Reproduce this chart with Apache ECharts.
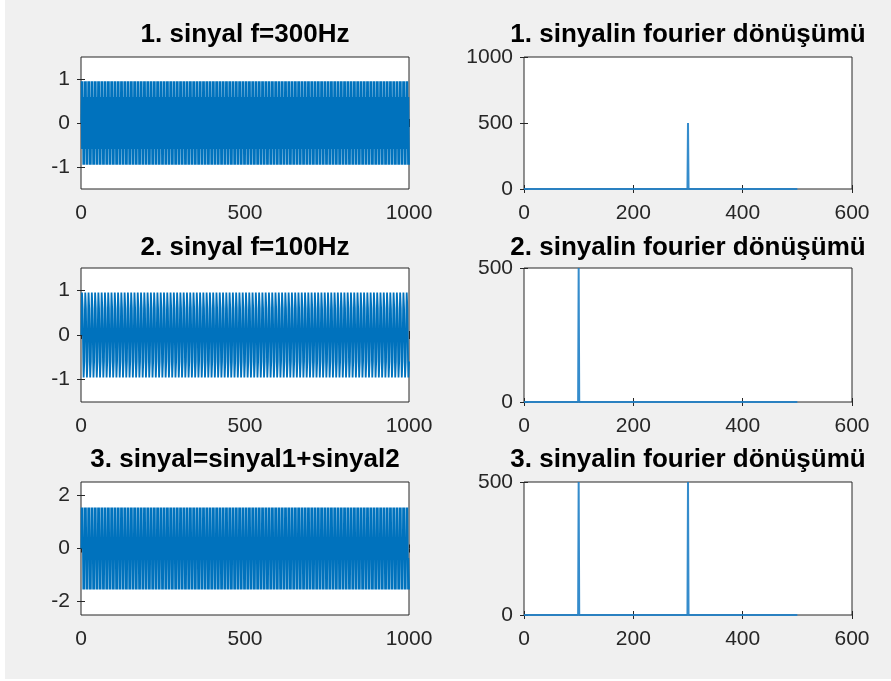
<!DOCTYPE html>
<html>
<head>
<meta charset="utf-8">
<script src="https://cdn.jsdelivr.net/npm/echarts@6/dist/echarts.min.js"></script>
<style>
html,body{margin:0;padding:0;background:#ffffff;}
#chart{position:absolute;left:5px;top:0;width:886px;height:679px;background:#f0f0f0;}
</style>
</head>
<body>
<div id="chart"></div>
<script>
// ---- data ----
const titles = [
  "1. sinyal f=300Hz", "1. sinyalin fourier dönüşümü",
  "2. sinyal f=100Hz", "2. sinyalin fourier dönüşümü",
  "3. sinyal=sinyal1+sinyal2", "3. sinyalin fourier dönüşümü"
];
const sampleCount = 1000;
const sig1Cycle = [0, 0.95, -0.59, -0.59, 0.95, 0, -0.95, 0.59, 0.59, -0.95];
const sig2Cycle = [0, 0.59, 0.95, 0.95, 0.59, 0, -0.59, -0.95, -0.95, -0.59];
const sig3Cycle = [0, 1.54, 0.36, 0.36, 1.54, 0, -1.54, -0.36, -0.36, -1.54];
// spectra (magnitude), zero except at the peaks
const fft1Freq = [0, 299, 300, 301, 500];
const fft1Mag  = [0, 0, 500, 0, 0];
const fft2Freq = [0, 99, 100, 101, 500];
const fft2Mag  = [0, 0, 500, 0, 0];
const fft3Freq = [0, 99, 100, 101, 299, 300, 301, 500];
const fft3Mag  = [0, 0, 500, 0, 0, 500, 0, 0];
// tick labels
const timeXTicks = [0, 500, 1000];
const freqXTicks = [0, 200, 400, 600];
const sigYTicks12 = [-1, 0, 1];
const sigYTicks3 = [-2, 0, 2];
const fftYTicks1 = [0, 500, 1000];
const fftYTicks23 = [0, 500];

function tile(cycle){
  const out = [];
  for (let i = 0; i < sampleCount; i++) out.push([i + 1, cycle[i % cycle.length]]);
  return out;
}
function pairs(xs, ys){ return xs.map((x, i) => [x, ys[i]]); }

const panels = [
  {data: tile(sig1Cycle), xr:[0,1000], xt: timeXTicks, yr:[-1.5,1.5], yt: sigYTicks12, kind:'t'},
  {data: pairs(fft1Freq, fft1Mag), xr:[0,600], xt: freqXTicks, yr:[0,1000], yt: fftYTicks1, kind:'f'},
  {data: tile(sig2Cycle), xr:[0,1000], xt: timeXTicks, yr:[-1.5,1.5], yt: sigYTicks12, kind:'t'},
  {data: pairs(fft2Freq, fft2Mag), xr:[0,600], xt: freqXTicks, yr:[0,500], yt: fftYTicks23, kind:'f'},
  {data: tile(sig3Cycle), xr:[0,1000], xt: timeXTicks, yr:[-2.5,2.5], yt: sigYTicks3, kind:'t'},
  {data: pairs(fft3Freq, fft3Mag), xr:[0,600], xt: freqXTicks, yr:[0,500], yt: fftYTicks23, kind:'f'}
];

// ---- layout ----
const colLeft = [76, 519];
const colW = 328;
const rowTop = [57, 268, 482];
const rowH = [132, 134, 133];
const titleY = [35, 248, 460];
const axisColor = '#262626';
const font = 'Arial, "Liberation Sans", Helvetica, sans-serif';
const plain = v => String(v);

const grid = [], xAxis = [], yAxis = [], series = [], graphic = [];
panels.forEach((p, i) => {
  const r = Math.floor(i / 2), c = i % 2;
  grid.push({left: colLeft[c], top: rowTop[r], width: colW, height: rowH[r],
    show: true, backgroundColor: '#ffffff', borderColor: axisColor, borderWidth: 1, containLabel: false});
  const tick = {show: true, inside: true, length: 4, lineStyle: {color: axisColor, width: 1}};
  const lbl = {color: axisColor, fontSize: 21, fontFamily: font, formatter: plain};
  xAxis.push({type:'value', gridIndex:i, min:p.xr[0], max:p.xr[1], position:'bottom',
    axisLine:{show:false}, splitLine:{show:false},
    axisTick:Object.assign({customValues:p.xt}, tick),
    axisLabel:Object.assign({customValues:p.xt, margin:14}, lbl)});
  xAxis.push({type:'value', gridIndex:i, min:p.xr[0], max:p.xr[1], position:'top',
    axisLine:{show:false}, splitLine:{show:false},
    axisTick:Object.assign({customValues:p.xt}, tick), axisLabel:{show:false}});
  yAxis.push({type:'value', gridIndex:i, min:p.yr[0], max:p.yr[1], position:'left',
    axisLine:{show:false}, splitLine:{show:false},
    axisTick:Object.assign({customValues:p.yt}, tick),
    axisLabel:Object.assign({customValues:p.yt, margin:11}, lbl)});
  yAxis.push({type:'value', gridIndex:i, min:p.yr[0], max:p.yr[1], position:'right',
    axisLine:{show:false}, splitLine:{show:false},
    axisTick:Object.assign({customValues:p.yt}, tick), axisLabel:{show:false}});
  series.push({type:'line', xAxisIndex: 2*i, yAxisIndex: 2*i, data: p.data,
    showSymbol:false, symbol:'none', clip:true,
    lineStyle: p.kind === 't' ? {color:'#0072BD', width:1.8} : {color:'#1f7fc6', width:2, opacity:0.9},
    z: 3});
  graphic.push({type:'text', x: colLeft[c] + colW/2, y: titleY[r], z: 10,
    style:{text: titles[i], fill:'#000000', font: 'bold 26px ' + font,
      align:'center', verticalAlign:'middle', textAlign:'center', textVerticalAlign:'middle'}});
});

const chart = echarts.init(document.getElementById('chart'), null, {renderer:'canvas'});
chart.setOption({
  animation: false,
  backgroundColor: '#f0f0f0',
  grid, xAxis, yAxis, series, graphic
});
</script>
</body>
</html>
